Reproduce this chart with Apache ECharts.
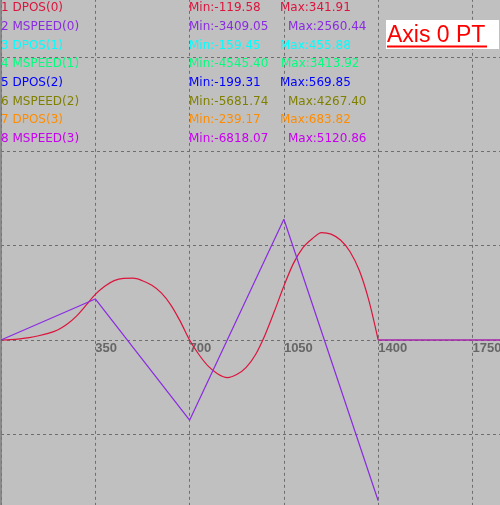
<!DOCTYPE html>
<html><head><meta charset="utf-8">
<script src="https://cdn.jsdelivr.net/npm/echarts@6/dist/echarts.min.js"></script>
<style>html,body{margin:0;padding:0;background:#c0c0c0;overflow:hidden}#c{width:500px;height:505px}</style>
</head><body><div id="c"></div>
<script>
// ---- data ----
const traceNames = ['1 DPOS(0)','2 MSPEED(0)','3 DPOS(1)','4 MSPEED(1)','5 DPOS(2)','6 MSPEED(2)','7 DPOS(3)','8 MSPEED(3)'];
const traceMins = ['Min:-119.58','Min:-3409.05','Min:-159.45','Min:-4545.40','Min:-199.31','Min:-5681.74','Min:-239.17','Min:-6818.07'];
const traceMaxs = ['Max:341.91','Max:2560.44','Max:455.88','Max:3413.92','Max:569.85','Max:4267.40','Max:683.82','Max:5120.86'];
const traceColors = ['#dc143c','#8a2be2','#00ffff','#00ff7f','#0000ff','#808000','#ff8c00','#c800f0'];
const xTickValues = [350,700,1050,1400,1750];
const panelTitle = 'Axis 0 PT';

// DPOS(0) samples (x, value); null = break
const dposX = [0,35,70,105,140,175,210,245,280,315,350,385,420,455,490,525,560,595,630,665,700,
  735,770,805,840,875,910,945,980,1015,1050,1085,1120,1155,1190,1225,1260,1295,1330,1365,1400,1400,1400,2100];
const dposY = [0,1.3,3.8,7.6,13.4,21,32,50,76,110,145,171,189,196,196.6,188.6,174,150,112,60,0,
  -47,-84,-108,-119.58,-110,-87,-46,16,92,172,243,293,322,341.91,337,318,281.5,221,127,0,null,0,0];
// MSPEED(0) samples (null = break)
const mspeedX = [0,350,700,1050,1400,1400,1400,2100];
const mspeedY = [0,870,-1700,2560.44,-3409.05,null,0,0];

// ---- layout (px) ----
const PX = 94.3;           // pixels per grid division
const ZERO_Y = 340, LEFT = 1;
const rowY0 = 8, rowStep = 18.7;
const minColX = 189;
const maxColX = [280,288,280,281,280,288,280,288];

const chart = echarts.init(document.getElementById('c'), null, {renderer:'canvas'});
const grid = {left: LEFT, right: 500 - LEFT - 6*PX, top: ZERO_Y - 4*PX, bottom: 505 - (ZERO_Y + 2*PX),
  containLabel:false, outerBoundsMode:'none'};
const dash = {color:'#6e6e6e', type:[3,3], width:1};

const graphics = [];
traceNames.forEach((n,i)=>{
  const y = rowY0 + i*rowStep;
  const f = '12px "DejaVu Sans"';
  graphics.push({type:'text', z:100, style:{text:n, x:1, y:y, font:f, fill:traceColors[i], verticalAlign:'middle', align:'left'}});
  graphics.push({type:'text', z:100, style:{text:traceMins[i], x:minColX, y:y, font:f, fill:traceColors[i], verticalAlign:'middle', align:'left'}});
  graphics.push({type:'text', z:100, style:{text:traceMaxs[i], x:maxColX[i], y:y, font:f, fill:traceColors[i], verticalAlign:'middle', align:'left'}});
});
graphics.push({type:'rect', z:100, shape:{x:386, y:20, width:113, height:29}, style:{fill:'#ffffff'}});
graphics.push({type:'text', z:101, style:{text:panelTitle, x:387, y:36, font:'23px "Liberation Sans"', fill:'#ff0000', verticalAlign:'middle', align:'left'}});
graphics.push({type:'line', z:101, shape:{x1:387, y1:46.5, x2:487, y2:46.5}, style:{stroke:'#ff0000', lineWidth:2}});

const toData = (xs, ys) => xs.map((x,i)=>[x, ys[i]===null ? '-' : ys[i]]);

chart.setOption({
  backgroundColor:'#c0c0c0',
  animation:false,
  grid: grid,
  xAxis: {type:'value', min:0, max:2100, interval:350, position:'bottom',
    offset: -(2*PX),
    axisLine:{show:false, onZero:false},
    axisTick:{show:false},
    splitLine:{show:true, lineStyle:dash},
    axisLabel:{show:true, margin:2, align:'left', verticalAlign:'top', color:'#666666',
      fontFamily:'Liberation Sans', fontWeight:'bold', fontSize:13,
      showMinLabel:false, showMaxLabel:false,
      formatter:(v)=> xTickValues.indexOf(Math.round(v)) >= 0 ? String(Math.round(v)) : ''}
  },
  yAxis: [
    {type:'value', min:-600, max:1200, interval:300,
      axisLine:{show:true, onZero:false, lineStyle:{color:'#7a7a7a', width:1.5}},
      axisTick:{show:false}, axisLabel:{show:false},
      splitLine:{show:true, lineStyle:dash}},
    {type:'value', min:-4000, max:8000, interval:2000, show:false, splitLine:{show:false}}
  ],
  series: [
    {type:'line', name:traceNames[0], yAxisIndex:0, data: toData(dposX, dposY),
      connectNulls:false, smooth:0.3, symbol:'none', lineStyle:{color:traceColors[0], width:1.2}},
    {type:'line', name:traceNames[1], yAxisIndex:1, data: toData(mspeedX, mspeedY),
      connectNulls:false, symbol:'none', lineStyle:{color:traceColors[1], width:1.2}}
  ],
  graphic: graphics
});
</script></body></html>
